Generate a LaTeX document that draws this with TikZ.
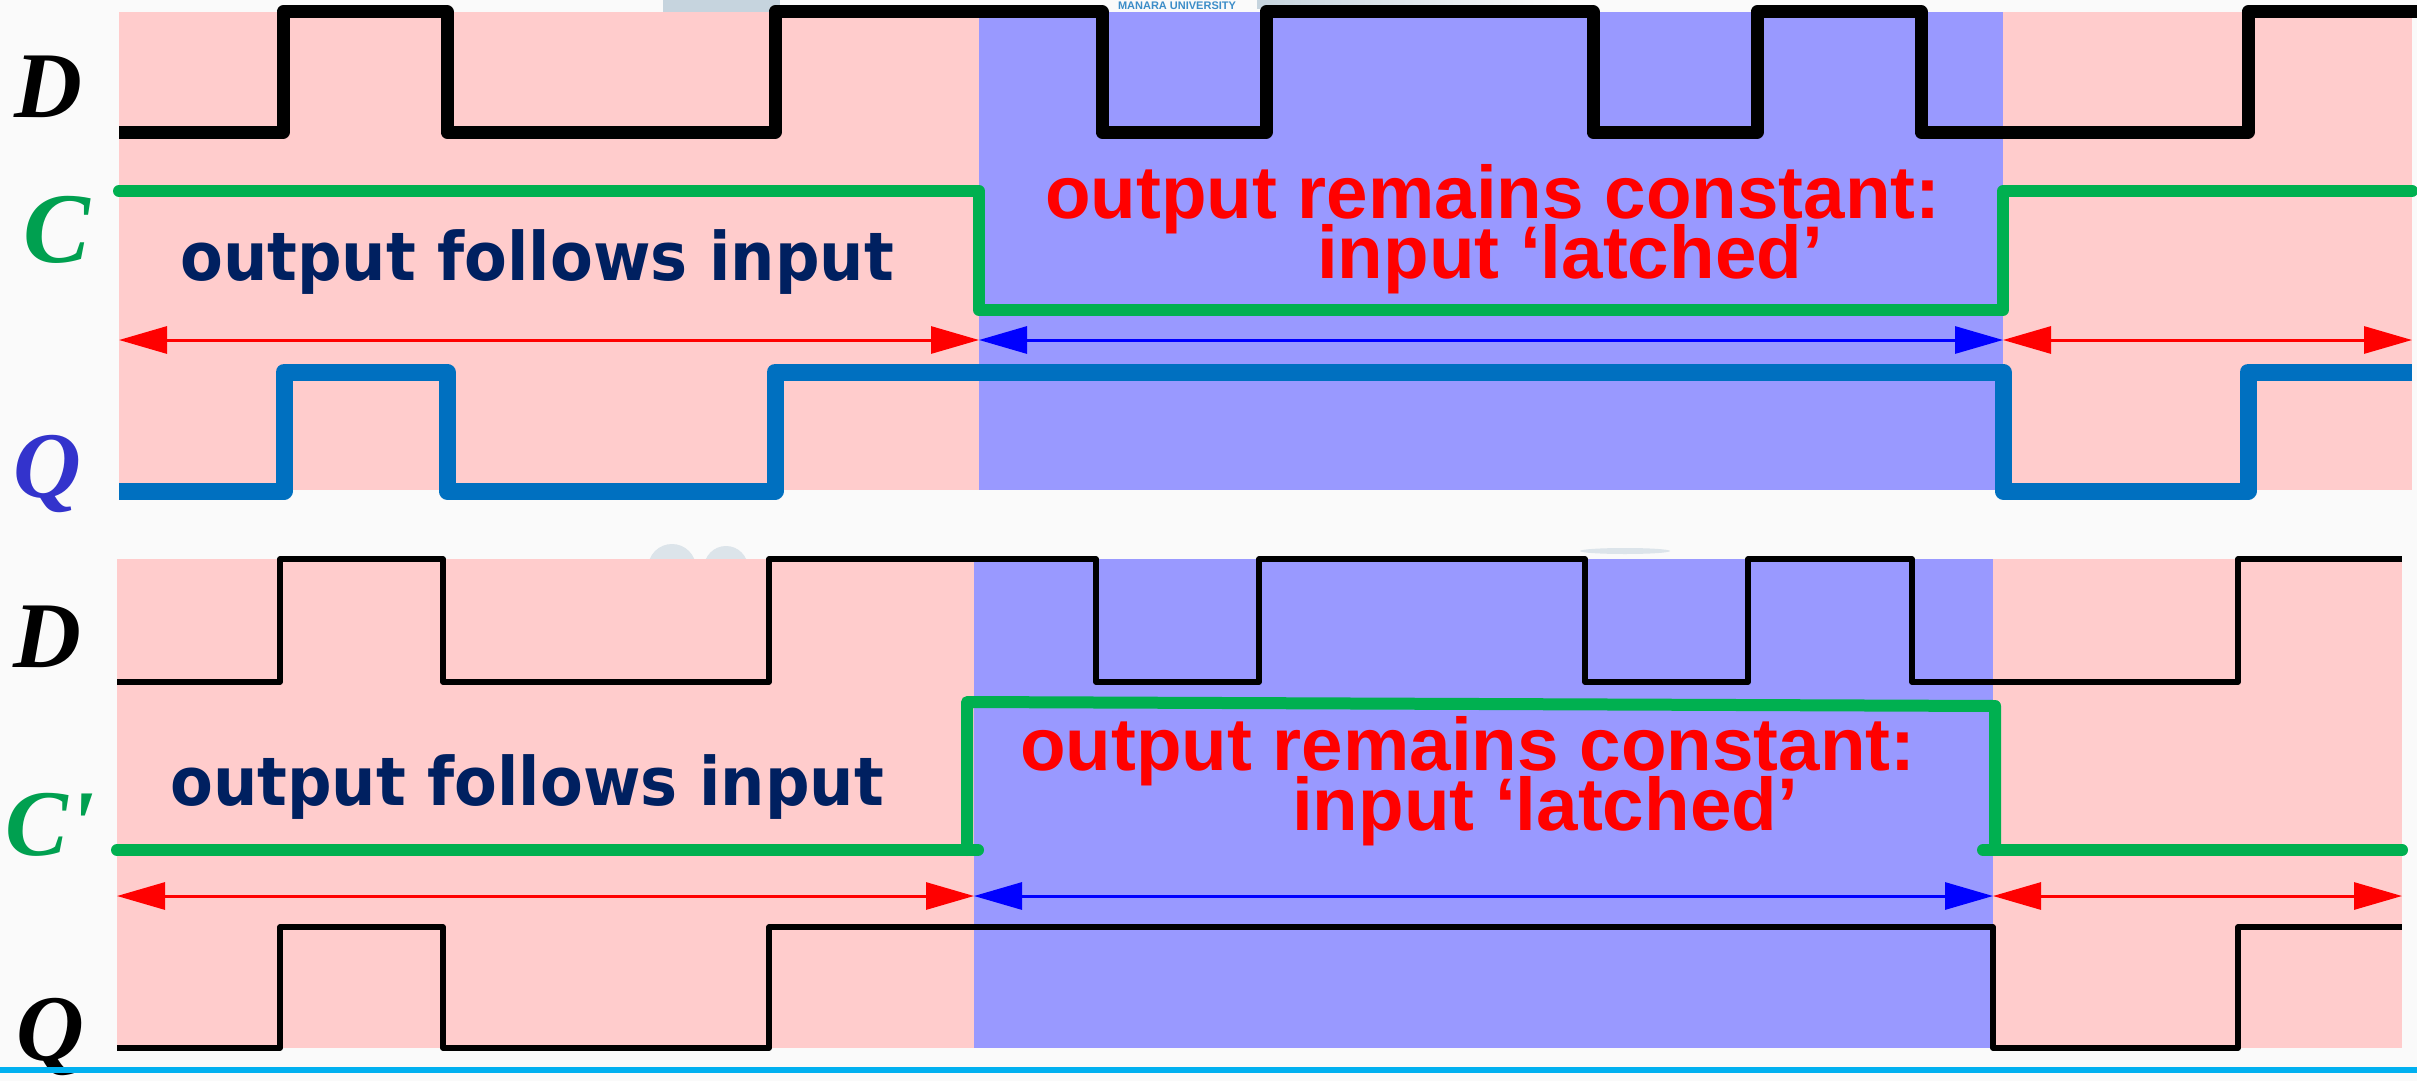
\documentclass[tikz,border=0pt]{standalone}
\usepackage{fontspec}
\usetikzlibrary{arrows.meta}
\newfontfamily\navyfont[FakeStretch=0.93]{DejaVu Sans}
\newfontfamily\redfont{Liberation Sans}
\newfontfamily\lblfont{Liberation Serif}
\definecolor{pinkbg}{HTML}{FFCCCC}
\definecolor{bluebg}{HTML}{9999FF}
\definecolor{sigblue}{HTML}{0070C0}
\definecolor{siggreen}{HTML}{00B050}
\definecolor{navy}{HTML}{002060}
\definecolor{lblgreen}{HTML}{00A050}
\definecolor{lblblue}{HTML}{3333CC}
\definecolor{cyanline}{HTML}{00B0F0}
\definecolor{bgcol}{HTML}{FAFAFA}
\definecolor{wmblue}{HTML}{3C8DC8}
\definecolor{wmgray}{HTML}{C6D4DE}
\definecolor{wmfaint}{HTML}{DCE4EA}
\newcommand{\latchtext}{\parbox[t]{920pt}{\lineskiplimit=-\maxdimen\baselineskip=60pt
  output remains constant:\\\hspace*{272pt}input ‘latched’}}
\begin{document}
\begin{tikzpicture}[x=1pt,y=-1pt,
  lbl/.style={inner sep=0pt, anchor=base, font=\lblfont\bfseries\itshape\fontsize{94}{94}\selectfont},
  navytxt/.style={inner sep=0pt, anchor=base west, text=navy, font=\navyfont\bfseries\fontsize{67}{67}\selectfont},
  redtxt/.style={inner sep=0pt, anchor=base west, text=red, font=\redfont\bfseries\fontsize{74.6}{60}\selectfont},
  thickD/.style={draw=black, line width=13pt, line join=round},
  thinD/.style={draw=black, line width=5.5pt, line join=round},
  clk/.style={draw=siggreen, line width=12pt, line join=round, line cap=round},
  qthick/.style={draw=sigblue, line width=17pt, line join=round},
  rarr/.style={draw=red, line width=3pt, {Triangle[length=48pt,width=27pt]}-{Triangle[length=48pt,width=27pt]}},
  barr/.style={draw=blue, line width=3pt, {Triangle[length=48pt,width=27pt]}-{Triangle[length=48pt,width=27pt]}}
]
\useasboundingbox (0,0) rectangle (2417,1081);
\fill[bgcol] (0,0) rectangle (2417,1081);

% faint watermark remnants
\fill[wmgray] (663,0) rectangle (780,12);
\shade[left color=wmgray, right color=bgcol] (1257,0) rectangle (1560,9);
\fill[wmfaint] (672,568) circle (24);
\fill[wmfaint] (726,568) circle (22);
\fill[wmfaint] (1625,551) ellipse (45 and 3);

% ---------------- top panel ----------------
\fill[pinkbg] (119,12) rectangle (2412,490);
\fill[bluebg] (979,12) rectangle (2003,490);
\node[inner sep=0pt, text=wmblue, font=\redfont\bfseries\fontsize{11}{11}\selectfont] (wm) at (1177,6) {MANARA UNIVERSITY};

\draw[thickD] (119,132) -- (283,132) -- (283,12) -- (447,12) -- (447,132) -- (775,132) -- (775,12)
  -- (1102,12) -- (1102,132) -- (1266,132) -- (1266,12) -- (1593,12) -- (1593,132) -- (1757,132)
  -- (1757,12) -- (1921,12) -- (1921,132) -- (2248,132) -- (2248,12) -- (2417,12);

\draw[clk] (119,191) -- (979,191) -- (979,310) -- (2003,310) -- (2003,191) -- (2412,191);

\coordinate (ta0) at (119,340);
\coordinate (ta1) at (979,340);
\coordinate (ta2) at (2003,340);
\coordinate (ta3) at (2412,340);
\draw[rarr] (ta0) -- (ta1);
\draw[barr] (ta1) -- (ta2);
\draw[rarr] (ta2) -- (ta3);

\draw[qthick] (119,491) -- (284,491) -- (284,372) -- (447,372) -- (447,491) -- (775,491) -- (775,372)
  -- (2003,372) -- (2003,491) -- (2248,491) -- (2248,372) -- (2412,372);

\node[lbl] (lD1) at (48,117) {D};
\node[lbl, text=lblgreen, font=\lblfont\bfseries\itshape\fontsize{100}{100}\selectfont] (lC1) at (57,262) {C};
\node[lbl, text=lblblue] (lQ1) at (47,497) {Q};

\node[navytxt] (nav1) at (180,280) {output follows input};
\node[redtxt] (red1) at (1045,218) {\latchtext};

% ---------------- bottom panel ----------------
\fill[pinkbg] (117,559) rectangle (2402,1048);
\fill[bluebg] (974,559) rectangle (1993,1048);

\draw[thinD] (117,682) -- (280,682) -- (280,559) -- (443,559) -- (443,682) -- (769,682) -- (769,559)
  -- (1096,559) -- (1096,682) -- (1259,682) -- (1259,559) -- (1585,559) -- (1585,682) -- (1748,682)
  -- (1748,559) -- (1912,559) -- (1912,682) -- (2238,682) -- (2238,559) -- (2402,559);

\draw[clk] (117,850) -- (978,850);
\draw[clk] (967,850) -- (967,702) -- (1995,706) -- (1995,850);
\draw[clk] (1983,850) -- (2402,850);

\coordinate (ba0) at (117,896);
\coordinate (ba1) at (974,896);
\coordinate (ba2) at (1993,896);
\coordinate (ba3) at (2402,896);
\draw[rarr] (ba0) -- (ba1);
\draw[barr] (ba1) -- (ba2);
\draw[rarr] (ba2) -- (ba3);

\draw[thinD] (117,1048) -- (280,1048) -- (280,927) -- (443,927) -- (443,1048) -- (769,1048) -- (769,927)
  -- (1993,927) -- (1993,1048) -- (2238,1048) -- (2238,927) -- (2402,927);

\node[lbl] (lD2) at (47,667) {D};
\node[lbl, text=lblgreen] (lC2) at (50,855) {C\textquotesingle};
\node[lbl] (lQ2) at (50,1060) {Q};

\node[navytxt] (nav2) at (170,805) {output follows input};
\node[redtxt] (red2) at (1020,770) {\latchtext};

\draw[draw=cyanline, line width=6pt] (0,1070) -- (2417,1070);
\end{tikzpicture}
\end{document}
